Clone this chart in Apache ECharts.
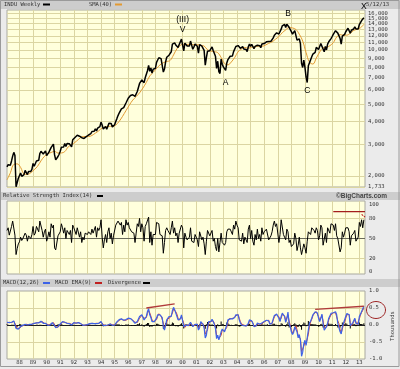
<!DOCTYPE html>
<html><head><meta charset="utf-8">
<script src="https://cdn.jsdelivr.net/npm/echarts@6/dist/echarts.min.js"></script>
<style>html,body{margin:0;padding:0;background:#ebebeb}#c{width:400px;height:369px}</style>
</head><body><div id="c"></div>
<script>
// ---------- categories (monthly, Feb 1987 .. Jun 2013) ----------
const startYear = 1987, startMonth = 2, monthCount = 317;
const months = [];
for (let i = 0; i < monthCount; i++) {
  const m = startMonth - 1 + i, y = startYear + Math.floor(m / 12), mm = m % 12 + 1;
  months.push(y + '-' + (mm < 10 ? '0' : '') + mm);
}
// ---------- tick labels ----------
const priceTicks = [1733, 2000, 3000, 4000, 5000, 6000, 7000, 8000, 9000, 10000, 11000, 12000, 13000, 14000, 15000, 16000];
const rsiTicks = [0, 20, 50, 80, 100];
const macdTicks = [-1, -0.5, 0, 0.5, 1];
// ---------- INDU weekly (monthly representative values) ----------
const priceValues = [
 2240,2305,2286,2292,2419,2572,2700,2596,1740,1834,1939,
 1958,2072,1988,2032,2031,2141,2129,2032,2112,2149,2114,2169,
 2342,2258,2294,2419,2480,2440,2661,2737,2693,2645,2706,2753,
 2591,2627,2707,2657,2877,2881,2999,2614,2453,2400,2560,2634,
 2737,2882,2914,2888,3028,2907,3025,3044,3017,3069,2895,3169,
 3224,3267,3236,3359,3397,3319,3394,3257,3272,3226,3305,3301,
 3310,3371,3435,3428,3527,3516,3540,3651,3555,3681,3684,3754,
 3978,3832,3636,3682,3758,3625,3765,3913,3843,3908,3739,3834,
 3843,4011,4158,4321,4465,4556,4709,4611,4789,4756,5075,5117,
 5395,5486,5587,5569,5643,5655,5529,5616,5882,6029,6522,6448,
 6813,6878,6584,7009,7331,7673,8223,7622,7945,7442,7823,7908,
 7907,8546,8800,9063,8900,8952,8883,7539,7843,8592,9117,9181,
 9359,9307,9786,10789,10560,10971,10655,10829,10337,10730,10878,11497,
 11500,9900,10922,10734,10522,10448,10522,11215,10651,10100,10415,10787,
 10887,10495,9600,10735,10912,10502,10523,9950,8236,9075,9852,10021,
 9920,10106,10404,9946,9925,9243,7900,8664,7592,7400,8896,8342,
 8054,7891,7700,8480,8850,8985,9234,9416,9275,9801,9782,10454,
 10488,10584,10358,10226,10188,10435,10140,10174,10080,9800,10428,10783,
 10490,10766,10504,10193,10467,10275,10641,10482,10569,10300,10806,10718,
 10865,10993,11109,11367,11168,10900,11186,11381,11679,12081,12222,12463,
 12622,12269,12354,13063,13628,13409,13900,13358,13896,14100,13372,13265,
 12650,12266,12263,12820,12638,11350,11378,11544,10851,8450,8000,8776,
 8001,7063,6600,8168,8500,8447,9172,9496,9712,9713,10345,10428,
 10067,10325,10857,11009,10137,9774,10466,10015,10788,11118,11006,11578,
 11892,12226,12320,12811,12570,12414,12143,11614,10770,11955,12046,12218,
 12633,12952,13212,13214,12393,12880,13009,13091,13437,13096,13026,13104,
 13861,14054,14579,14840,15118
];
// SMA(40) read every third month (Feb, May, Aug, Nov)
const smaValues = [
 1900,2080,2313,2329, 2227,2049,2036,2081, 2161,2260,2422,2564, 2650,2695,2735,2677,
 2679,2726,2895,2976, 3069,3181,3291,3307, 3306,3353,3453,3557, 3688,3729,3771,3763,
 3831,4014,4279,4604, 4944,5269,5511,5781, 6152,6611,7176,7517, 7899,8259,8500,8632,
 8753,9393,10160,10615, 10774,10743,10770,10711, 10710,10615,10519,10031, 9866,9789,9663,9089,
 8424,8277,8583,9091, 9780,10128,10339,10228, 10369,10415,10511,10486, 10643,10893,11115,11483,
 11895,12487,12931,13358, 13262,13011,12242,11222, 9680,8569,8359,9018, 9745,10288,10342,10574,
 10985,11812,12174,12087, 12099,12393,12845,13040, 13284,13902
];
// RSI(14)
const rsiValues = [
 62,66,55,56,68,76,78,55,26,35,42,
 45,52,47,50,50,58,55,46,54,56,50,56,
 68,55,58,68,70,60,76,74,62,52,60,64,
 46,52,60,52,72,66,70,36,33,35,54,56,
 60,72,66,58,66,50,62,64,56,62,44,70,
 66,64,56,66,64,52,60,44,52,48,58,56,
 56,60,62,56,64,58,58,68,52,66,62,66,
 78,52,36,48,56,44,60,66,50,58,42,54,
 56,70,72,76,74,70,74,56,70,60,78,70,
 74,66,66,60,62,58,44,58,72,68,80,60,
 72,66,46,68,72,72,82,44,60,40,56,58,
 56,74,74,72,56,58,54,28,44,62,66,62,
 64,56,66,76,58,66,54,58,44,58,58,70,
 66,36,58,52,48,50,52,66,46,46,44,56,
 58,48,38,60,62,48,52,42,26,46,62,60,
 54,56,62,46,50,38,32,50,30,44,58,44,
 42,40,44,60,64,62,64,66,56,70,64,76,
 70,66,48,50,46,58,42,52,50,44,64,70,
 50,62,46,40,56,48,64,50,56,46,66,56,
 60,62,64,66,48,46,54,60,70,76,68,72,
 70,44,56,78,76,56,52,48,64,60,44,48,
 38,40,42,58,50,32,40,52,36,26,34,42,
 36,28,46,60,58,56,66,64,62,58,66,62,
 48,54,70,66,40,38,58,44,66,66,58,72,
 72,70,62,72,54,50,52,30,36,60,52,58,
 66,66,66,60,40,54,56,58,62,46,48,52,
 74,68,78,66,78
];
// MACD(12,26) in thousands
const macdValues = [
 0.08,0.09,0.07,0.06,0.08,0.1,0.12,0.07,-0.1,-0.15,-0.12,
 -0.08,-0.04,-0.02,-0.01,-0.01,0.02,0.02,0.0,0.01,0.02,0.01,0.02,
 0.05,0.05,0.04,0.06,0.08,0.06,0.09,0.11,0.09,0.05,0.04,0.05,
 0.01,-0.01,0.01,0.0,0.05,0.07,0.07,-0.02,-0.08,-0.1,-0.05,0.0,
 0.03,0.08,0.1,0.08,0.08,0.05,0.05,0.06,0.04,0.05,0.0,0.04,
 0.07,0.07,0.05,0.06,0.07,0.04,0.04,0.0,-0.01,-0.02,0.0,0.01,
 0.01,0.03,0.04,0.04,0.05,0.04,0.04,0.06,0.04,0.05,0.05,0.06,
 0.1,0.07,-0.02,-0.04,-0.01,-0.03,0.0,0.04,0.03,0.03,-0.01,-0.01,
 0.0,0.05,0.09,0.13,0.16,0.16,0.18,0.14,0.14,0.11,0.16,0.17,
 0.2,0.2,0.19,0.15,0.13,0.11,0.05,0.04,0.1,0.14,0.25,0.25,
 0.3,0.28,0.15,0.18,0.25,0.4,0.48,0.3,0.22,0.1,0.08,0.1,
 0.1,0.2,0.3,0.35,0.3,0.25,0.22,-0.05,-0.15,0.0,0.15,0.2,
 0.25,0.2,0.25,0.42,0.52,0.45,0.35,0.3,0.15,0.12,0.18,0.3,
 0.25,-0.05,-0.1,0.0,0.02,-0.02,-0.03,0.08,0.05,-0.05,-0.06,0.02,
 0.05,0.02,-0.15,-0.08,0.1,0.08,0.02,-0.08,-0.38,-0.3,-0.05,0.1,
 0.12,0.1,0.17,0.1,0.02,-0.1,-0.4,-0.3,-0.44,-0.47,-0.2,-0.12,
 -0.1,-0.2,-0.22,0.0,0.15,0.2,0.18,0.2,0.18,0.2,0.22,0.3,
 0.33,0.3,0.15,0.06,0.0,0.02,-0.02,-0.04,-0.03,-0.06,0.05,0.15,
 0.12,0.12,0.06,-0.05,-0.04,-0.02,0.06,0.03,0.02,-0.03,0.06,0.08,
 0.1,0.12,0.14,0.18,0.12,0.02,0.0,0.06,0.18,0.28,0.3,0.32,
 0.33,0.2,0.1,0.25,0.35,0.3,0.25,0.08,0.18,0.38,0.05,-0.05,
 -0.2,-0.28,-0.22,-0.05,0.0,-0.2,-0.38,-0.28,-0.45,-0.92,-0.8,-0.55,
 -0.45,-0.6,-0.55,-0.15,0.05,0.12,0.2,0.3,0.35,0.39,0.4,0.35,
 0.2,0.1,0.2,0.32,0.05,-0.15,-0.1,-0.05,0.05,0.2,0.25,0.34,
 0.38,0.36,0.32,0.39,0.3,0.05,0.02,-0.2,-0.26,-0.05,0.05,0.1,
 0.25,0.34,0.33,0.3,-0.02,-0.05,0.05,0.1,0.2,0.05,0.0,0.02,
 0.25,0.32,0.4,0.45,0.55
];
// MACD EMA(9)
const signalValues = [
 0.06,0.08,0.08,0.07,0.07,0.09,0.11,0.09,-0.02,-0.1,-0.12,
 -0.1,-0.06,-0.03,-0.02,-0.01,0.01,0.02,0.01,0.01,0.02,0.01,0.02,
 0.04,0.05,0.05,0.05,0.07,0.07,0.08,0.1,0.1,0.07,0.05,0.05,
 0.03,0.0,0.0,0.01,0.03,0.06,0.07,0.02,-0.05,-0.08,-0.07,-0.02,
 0.01,0.06,0.09,0.09,0.08,0.06,0.05,0.06,0.05,0.05,0.02,0.03,
 0.06,0.07,0.06,0.06,0.07,0.05,0.04,0.02,0.0,-0.01,-0.01,0.0,
 0.01,0.02,0.03,0.04,0.05,0.04,0.04,0.05,0.05,0.05,0.05,0.06,
 0.08,0.08,0.02,-0.03,-0.02,-0.02,-0.01,0.02,0.03,0.03,0.01,0.0,
 0.0,0.03,0.07,0.11,0.14,0.16,0.17,0.16,0.14,0.12,0.14,0.16,
 0.18,0.2,0.19,0.17,0.14,0.12,0.08,0.05,0.07,0.12,0.2,0.25,
 0.28,0.28,0.2,0.17,0.22,0.34,0.42,0.36,0.26,0.15,0.1,0.09,
 0.1,0.16,0.26,0.33,0.32,0.27,0.23,0.06,-0.1,-0.06,0.08,0.18,
 0.23,0.22,0.23,0.35,0.47,0.46,0.39,0.32,0.2,0.14,0.16,0.25,
 0.27,0.05,-0.07,-0.03,0.01,0.0,-0.02,0.04,0.06,-0.01,-0.05,-0.01,
 0.03,0.03,-0.08,-0.1,0.04,0.08,0.04,-0.04,-0.27,-0.32,-0.14,0.05,
 0.1,0.11,0.15,0.12,0.05,-0.06,-0.3,-0.32,-0.4,-0.44,-0.3,-0.15,
 -0.12,-0.17,-0.21,-0.07,0.1,0.18,0.18,0.19,0.19,0.2,0.21,0.27,
 0.31,0.31,0.2,0.1,0.03,0.02,0.0,-0.03,-0.03,-0.05,0.02,0.11,
 0.12,0.12,0.08,-0.02,-0.04,-0.03,0.03,0.04,0.03,-0.01,0.03,0.07,
 0.09,0.11,0.13,0.16,0.14,0.05,0.01,0.04,0.14,0.24,0.29,0.31,
 0.33,0.24,0.14,0.2,0.31,0.31,0.27,0.13,0.15,0.3,0.12,0.0,
 -0.14,-0.25,-0.24,-0.1,-0.02,-0.14,-0.32,-0.3,-0.4,-0.78,-0.82,-0.62,
 -0.5,-0.56,-0.56,-0.27,-0.03,0.09,0.17,0.27,0.33,0.37,0.39,0.36,
 0.25,0.14,0.17,0.28,0.12,-0.08,-0.1,-0.06,0.02,0.15,0.23,0.3,
 0.35,0.36,0.34,0.36,0.31,0.12,0.04,-0.13,-0.24,-0.12,0.02,0.08,
 0.2,0.3,0.33,0.31,0.08,-0.03,0.02,0.08,0.17,0.09,0.01,0.01,
 0.18,0.29,0.37,0.43,0.5
];
// Divergence (histogram)
const divergenceValues = [
 0.02,0.01,-0.01,-0.01,0.01,0.01,0.01,-0.02,-0.08,-0.05,0.0,
 0.02,0.02,0.01,0.01,0.0,0.01,0.0,-0.01,0.0,0.0,0.0,0.0,
 0.01,0.0,-0.01,0.01,0.01,-0.01,0.01,0.01,-0.01,-0.02,-0.01,0.0,
 -0.02,-0.01,0.01,-0.01,0.02,0.01,0.0,-0.04,-0.03,-0.02,0.02,0.02,
 0.02,0.02,0.01,-0.01,0.0,-0.01,0.0,0.0,-0.01,0.0,-0.02,0.01,
 0.01,0.0,-0.01,0.0,0.0,-0.01,0.0,-0.02,-0.01,-0.01,0.01,0.01,
 0.0,0.01,0.01,0.0,0.0,0.0,0.0,0.01,-0.01,0.0,0.0,0.0,
 0.02,-0.01,-0.04,-0.01,0.01,-0.01,0.01,0.02,0.0,0.0,-0.02,-0.01,
 0.0,0.02,0.02,0.02,0.02,0.0,0.01,-0.02,0.0,-0.01,0.02,0.01,
 0.02,0.0,0.0,-0.02,-0.01,-0.01,-0.03,-0.01,0.03,0.02,0.05,0.0,
 0.02,0.0,-0.05,0.01,0.03,0.06,0.06,-0.06,-0.04,-0.05,-0.02,0.01,
 0.0,0.04,0.04,0.02,-0.02,-0.02,-0.01,-0.11,-0.05,0.06,0.07,0.02,
 0.02,-0.02,0.02,0.07,0.05,-0.01,-0.04,-0.02,-0.05,-0.02,0.02,0.05,
 -0.02,-0.1,-0.03,0.03,0.01,-0.02,-0.01,0.04,-0.01,-0.04,-0.01,0.03,
 0.02,-0.01,-0.07,0.02,0.06,0.0,-0.02,-0.04,-0.11,0.02,0.09,0.05,
 0.02,-0.01,0.02,-0.02,-0.03,-0.04,-0.1,0.02,-0.04,-0.03,0.1,0.03,
 0.02,-0.03,-0.01,0.07,0.05,0.02,0.0,0.01,-0.01,0.0,0.01,0.03,
 0.02,-0.01,-0.05,-0.04,-0.03,0.0,-0.02,-0.01,0.0,-0.01,0.03,0.04,
 0.0,0.0,-0.02,-0.03,0.0,0.01,0.03,-0.01,-0.01,-0.02,0.03,0.01,
 0.01,0.01,0.01,0.02,-0.02,-0.03,-0.01,0.02,0.04,0.04,0.01,0.01,
 0.0,-0.04,-0.04,0.05,0.04,-0.01,-0.02,-0.05,0.03,0.08,-0.07,-0.05,
 -0.06,-0.03,0.02,0.05,0.02,-0.06,-0.06,0.02,-0.05,-0.14,0.02,0.07,
 0.05,-0.04,0.01,0.12,0.08,0.03,0.03,0.03,0.02,0.02,0.01,-0.01,
 -0.05,-0.04,0.03,0.04,-0.07,-0.07,0.0,0.01,0.03,0.05,0.02,0.04,
 0.03,0.0,-0.02,0.03,-0.01,-0.07,-0.02,-0.07,-0.02,0.07,0.03,0.02,
 0.05,0.04,0.0,-0.01,-0.1,-0.02,0.03,0.02,0.03,-0.04,-0.01,0.01,
 0.07,0.03,0.03,0.02,0.05
];
// ---------- annotations (data coordinates) ----------
const waveLabels = ['(III)', 'V', 'B', 'A', 'C', 'X'];
const waveMonths = ['2000-01', '2000-01', '2007-10', '2003-03', '2009-03', '2013-05'];
const waveValues = [14680, 13030, 16000, 6600, 5930, 16500];
const rsiTrendMonths = ['2011-02', '2013-06'];
const rsiTrendValues = [90, 90];
const rsiTickMonths = ['2013-03', '2013-06'];
const rsiTickValues = [86, 82];
const macdTrend1Months = ['1997-05', '1999-06'];
const macdTrend1Values = [0.5, 0.62];
const macdTrend2Months = ['2009-10', '2013-05'];
const macdTrend2Values = [0.46, 0.55];
const lastDate = '5/12/13';

// ---------- styles ----------
const MONO = '"DejaVu Sans Mono", monospace';
const GRID_LINE = '#dbd5a2';
const PLOT_BG = '#ffffdc';
const HEAD_BG = '#cdcdcd';
const isJan = (i, v) => String(v).slice(5) === '01';

function xAxisFor(gi, showLabels) {
  return {
    type: 'category', gridIndex: gi, data: months, boundaryGap: false,
    axisLine: {show: false}, axisTick: {show: false},
    axisLabel: showLabels ? {show: true, interval: isJan, formatter: v => v.slice(2, 4), margin: 1,
      fontSize: 5.5, fontFamily: MONO, color: '#333'} : {show: false},
    splitLine: {show: true, interval: isJan, lineStyle: {color: GRID_LINE, width: 1}}
  };
}
const gridBase = {left: 7, right: 35, show: true, backgroundColor: PLOT_BG, borderColor: '#a9a9a0', borderWidth: 1};
const pair = (ms, vs) => ms.map((m, i) => [m, vs[i]]);
const smaData = months.map((m, i) => (i % 3 === 0 && i / 3 < smaValues.length) ? smaValues[i / 3] : null);

const option = {
  animation: false,
  backgroundColor: '#ebebeb',
  grid: [
    Object.assign({top: 10, height: 177}, gridBase),
    Object.assign({top: 201, height: 73}, gridBase),
    Object.assign({top: 291, height: 68}, gridBase)
  ],
  xAxis: [xAxisFor(0, false), xAxisFor(1, false), xAxisFor(2, true)],
  yAxis: [
    {type: 'log', gridIndex: 0, min: 1733, max: 16690, position: 'right',
      axisLabel: {show: false}, splitLine: {show: false}, axisLine: {show: false}, axisTick: {show: false}},
    {type: 'value', gridIndex: 1, min: -3, max: 106, position: 'right',
      axisLabel: {customValues: rsiTicks, margin: 4, fontSize: 5.5, fontFamily: MONO, color: '#333'},
      splitLine: {show: false}, axisLine: {show: false}, axisTick: {show: false}},
    {type: 'value', gridIndex: 2, min: -1, max: 1, position: 'right',
      axisLabel: {customValues: macdTicks, formatter: v => v.toFixed(1), margin: 4, fontSize: 5.5, fontFamily: MONO, color: '#333'},
      splitLine: {show: false}, axisLine: {show: false}, axisTick: {show: false}}
  ],
  series: [
    {type: 'line', name: 'SMA(40)', xAxisIndex: 0, yAxisIndex: 0, data: smaData, connectNulls: true, smooth: 0.4,
      symbol: 'none', lineStyle: {color: '#e39a32', width: 1}, z: 2, silent: true},
    {type: 'line', name: 'INDU', xAxisIndex: 0, yAxisIndex: 0, data: priceValues, symbol: 'none',
      lineStyle: {color: '#000', width: 1.5}, z: 3, silent: true,
      markLine: {silent: true, z: 1, symbol: ['none', 'none'], animation: false,
        lineStyle: {color: GRID_LINE, width: 1, type: 'solid'},
        label: {show: true, position: 'end', distance: 3, formatter: p => p.value.toLocaleString('en-US'),
          fontSize: 5.5, fontFamily: MONO, color: '#333'},
        emphasis: {disabled: true},
        data: priceTicks.map(v => ({yAxis: v}))},
      markPoint: {silent: true, symbol: 'circle', symbolSize: 0, z: 6,
        label: {show: true, position: 'inside', formatter: p => p.name, fontSize: 8.5,
          fontFamily: '"Liberation Sans", Arial, sans-serif', color: '#000'},
        data: waveLabels.map((t, i) => ({name: t, coord: [months.indexOf(waveMonths[i]), waveValues[i]],
          label: t === 'X' ? {offset: [0, -4]} : {}}))}
    },
    {type: 'line', name: 'RSI', xAxisIndex: 1, yAxisIndex: 1, data: rsiValues, symbol: 'none',
      lineStyle: {color: '#000', width: 1}, z: 3, silent: true,
      markLine: {silent: true, z: 1, symbol: ['none', 'none'], label: {show: false},
        lineStyle: {color: GRID_LINE, width: 1, type: 'solid'}, emphasis: {disabled: true},
        data: [{yAxis: 20}, {yAxis: 80}, {yAxis: 50, lineStyle: {color: '#6a6a5a', width: 1, type: 'solid'}}]}},
    {type: 'line', xAxisIndex: 1, yAxisIndex: 1, data: pair(rsiTrendMonths, rsiTrendValues), symbol: 'none',
      lineStyle: {color: '#a31d1d', width: 1.3}, z: 4, silent: true},
    {type: 'line', xAxisIndex: 1, yAxisIndex: 1, data: pair(rsiTickMonths, rsiTickValues), symbol: 'none',
      lineStyle: {color: '#c02020', width: 1.2, type: [2, 1]}, z: 4, silent: true},
    {type: 'bar', name: 'Divergence', xAxisIndex: 2, yAxisIndex: 2, data: divergenceValues, barWidth: 1,
      itemStyle: {color: '#000'}, z: 2, silent: true},
    {type: 'line', name: 'MACD EMA(9)', xAxisIndex: 2, yAxisIndex: 2, data: signalValues, symbol: 'none',
      lineStyle: {color: '#d0423a', width: 1}, z: 3, silent: true,
      markLine: {silent: true, z: 1, symbol: ['none', 'none'], label: {show: false},
        lineStyle: {color: GRID_LINE, width: 1, type: 'solid'}, emphasis: {disabled: true},
        data: [{yAxis: 0.5}, {yAxis: -0.5}, {yAxis: 0, lineStyle: {color: '#222', width: 1, type: 'solid'}}]}},
    {type: 'line', name: 'MACD(12,26)', xAxisIndex: 2, yAxisIndex: 2, data: macdValues, symbol: 'none',
      lineStyle: {color: '#3d63e8', width: 1.2}, z: 4, silent: true},
    {type: 'line', xAxisIndex: 2, yAxisIndex: 2, data: pair(macdTrend1Months, macdTrend1Values), symbol: 'none',
      lineStyle: {color: '#b03a3a', width: 1.4}, z: 5, silent: true},
    {type: 'line', xAxisIndex: 2, yAxisIndex: 2, data: pair(macdTrend2Months, macdTrend2Values), symbol: 'none',
      lineStyle: {color: '#b03a3a', width: 1.4}, z: 5, silent: true}
  ],
  graphic: [
    {type: 'rect', silent: true, z: -10, shape: {x: 0, y: 0, width: 400, height: 9}, style: {fill: HEAD_BG}},
    {type: 'rect', silent: true, z: -10, shape: {x: 0, y: 192, width: 400, height: 8}, style: {fill: HEAD_BG}},
    {type: 'rect', silent: true, z: -10, shape: {x: 0, y: 279, width: 400, height: 8}, style: {fill: HEAD_BG}},
    {type: 'text', silent: true, style: {text: 'INDU Weekly', x: 4, y: 4.5, verticalAlign: 'middle', font: '5.5px ' + MONO, fill: '#333'}},
    {type: 'line', silent: true, shape: {x1: 43, y1: 4.5, x2: 50, y2: 4.5}, style: {stroke: '#000', lineWidth: 2}},
    {type: 'text', silent: true, style: {text: 'SMA(40)', x: 89, y: 4.5, verticalAlign: 'middle', font: '5.5px ' + MONO, fill: '#333'}},
    {type: 'line', silent: true, shape: {x1: 115, y1: 4.5, x2: 122, y2: 4.5}, style: {stroke: '#e39a32', lineWidth: 2}},
    {type: 'text', silent: true, style: {text: lastDate, x: 366, y: 4.5, verticalAlign: 'middle', font: '5.5px ' + MONO, fill: '#333'}},
    {type: 'text', silent: true, style: {text: 'Relative Strength Index(14)', x: 3, y: 196, verticalAlign: 'middle', font: '5.5px ' + MONO, fill: '#333'}},
    {type: 'line', silent: true, shape: {x1: 97, y1: 196, x2: 103, y2: 196}, style: {stroke: '#000', lineWidth: 2}},
    {type: 'text', silent: true, style: {text: '\u00A9BigCharts.com', x: 387, y: 196, align: 'right', verticalAlign: 'middle', font: 'bold 6.5px "Liberation Sans", Arial, sans-serif', fill: '#444'}},
    {type: 'text', silent: true, style: {text: 'MACD(12,26)', x: 3, y: 283, verticalAlign: 'middle', font: '5.5px ' + MONO, fill: '#333'}},
    {type: 'line', silent: true, shape: {x1: 43, y1: 283, x2: 50, y2: 283}, style: {stroke: '#3d63e8', lineWidth: 2}},
    {type: 'text', silent: true, style: {text: 'MACD EMA(9)', x: 55, y: 283, verticalAlign: 'middle', font: '5.5px ' + MONO, fill: '#333'}},
    {type: 'line', silent: true, shape: {x1: 95, y1: 283, x2: 102, y2: 283}, style: {stroke: '#c02020', lineWidth: 2}},
    {type: 'text', silent: true, style: {text: 'Divergence', x: 108, y: 283, verticalAlign: 'middle', font: '5.5px ' + MONO, fill: '#333'}},
    {type: 'line', silent: true, shape: {x1: 143, y1: 283, x2: 150, y2: 283}, style: {stroke: '#000', lineWidth: 2}},
    {type: 'text', silent: true, x: 393, y: 326, rotation: Math.PI / 2,
      style: {text: 'Thousands', x: 0, y: 0, align: 'center', verticalAlign: 'middle', font: '5.5px ' + MONO, fill: '#444'}},
    {type: 'ellipse', silent: true, shape: {cx: 376, cy: 310, rx: 9.5, ry: 8.5}, style: {fill: 'none', stroke: '#9e2424', lineWidth: 1}},
    {type: 'rect', silent: true, shape: {x: 0.5, y: 0.5, width: 398.5, height: 366}, style: {fill: 'none', stroke: '#9a9a9a', lineWidth: 1}}
  ]
};
const chart = echarts.init(document.getElementById('c'), null, {renderer: 'canvas'});
chart.setOption(option);
</script>
</body></html>
